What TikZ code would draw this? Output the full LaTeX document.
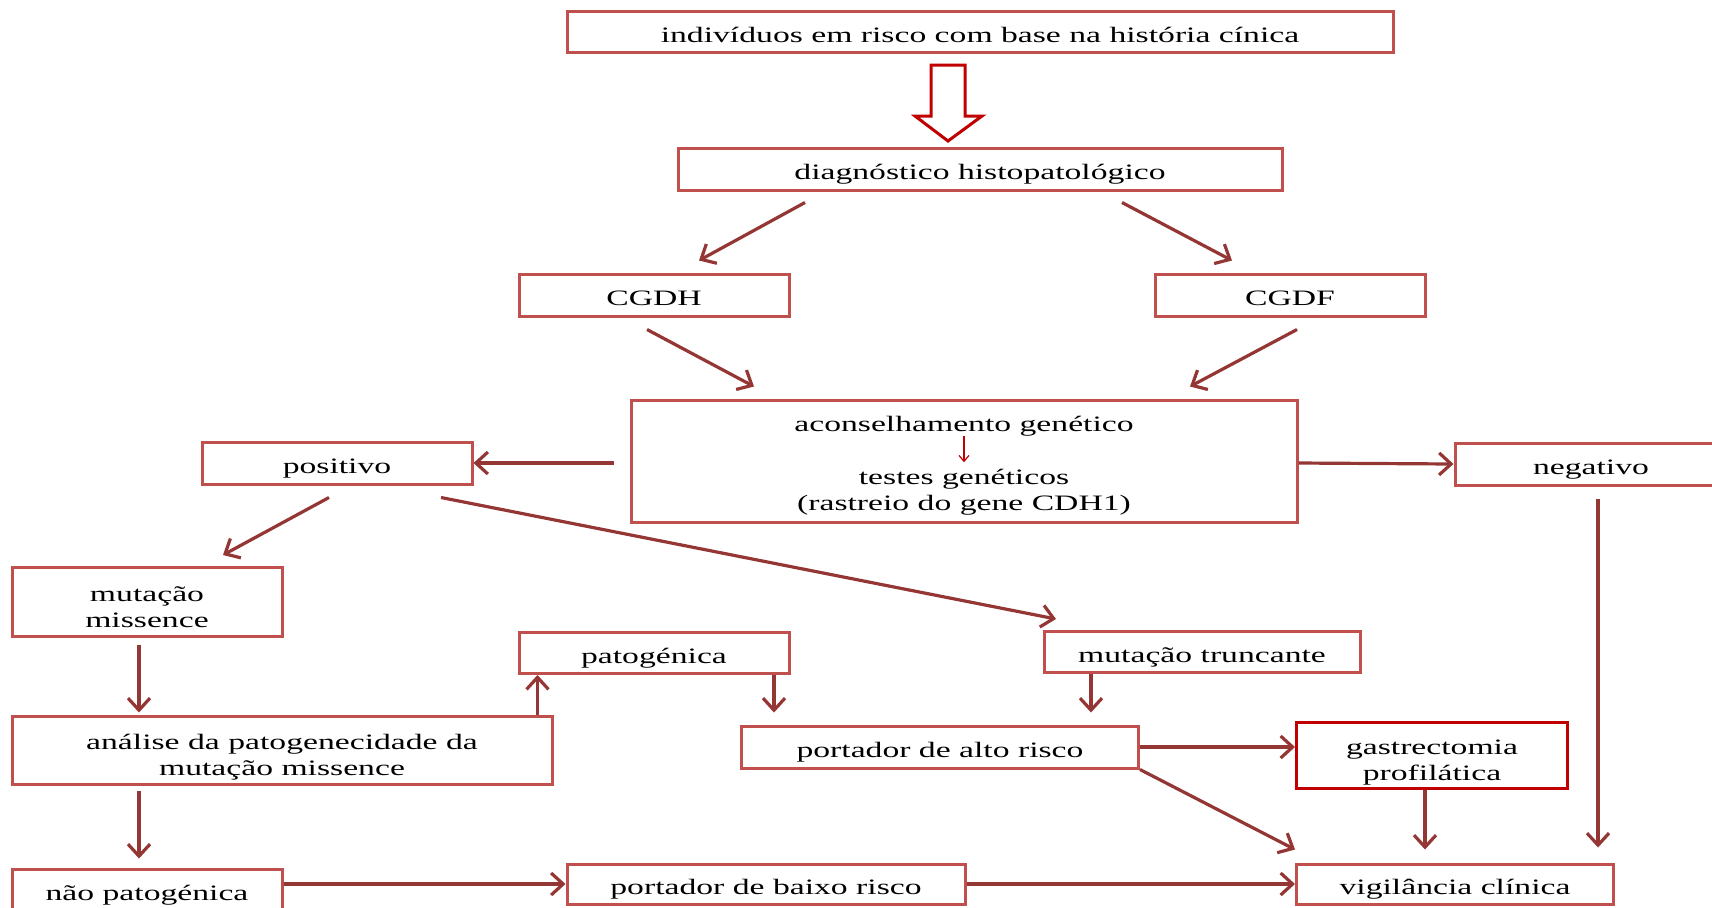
\documentclass[tikz,border=0pt]{standalone}
\usepackage{fontspec}
\setmainfont{Liberation Serif}[FakeStretch=1.53]
\usepackage{tikz}
\usetikzlibrary{arrows.meta}
\definecolor{boxred}{HTML}{C0504D}
\definecolor{lnred}{HTML}{943634}
\definecolor{hired}{HTML}{C00000}

\begin{document}
\begin{tikzpicture}[x=0.5pt,y=-0.5pt,
    font=\fontsize{11pt}{13pt}\selectfont,
    box/.style={draw=boxred,line width=1.5pt,align=center,inner sep=0pt,text height=12.6pt,text depth=2.5pt},
    box2/.style={box,text height=28pt},
    link/.style={draw=lnred,line width=1.6pt,-{Straight Barb[length=6pt,width=11pt]}},
    txt/.style={inner sep=0pt}]
  \useasboundingbox (0,0) rectangle (1712,907);
  % boxes
  \node[box,minimum width=413pt,minimum height=20.5pt] (indiv) at (980,32) {indivíduos em risco com base na história cínica};
  \node[box,minimum width=302pt,minimum height=21pt] (diag) at (980,169) {diagnóstico histopatológico};
  \node[box,minimum width=135pt,minimum height=21pt] (cgdh) at (654,295) {CGDH};
  \node[box,minimum width=135pt,minimum height=21pt] (cgdf) at (1290,295) {CGDF};
  \node[box,minimum width=333pt,minimum height=61pt] (acons) at (964,461) {};
  \node[txt,anchor=base] (aconstxt) at (964,431) {aconselhamento genético};
  \node[txt,anchor=base] (testes) at (964,484) {testes genéticos};
  \node[txt,anchor=base] (rastreio) at (964,510) {(rastreio do gene CDH1)};
  \node[box,minimum width=135pt,minimum height=21pt] (pos) at (337,463) {positivo};
  \node[box,minimum width=136pt,minimum height=21pt] (neg) at (1591,464) {negativo};
  \node[box2,minimum width=135pt,minimum height=34.5pt] (missence) at (147,602) {mutação\\missence};
  \node[box,minimum width=135pt,minimum height=20.5pt] (patog) at (654,653) {patogénica};
  \node[box,minimum width=158pt,minimum height=20.5pt] (trunc) at (1202,652) {mutação truncante};
  \node[box2,minimum width=270pt,minimum height=34pt] (analise) at (282,750) {análise da patogenecidade da\\mutação missence};
  \node[box,minimum width=198.5pt,minimum height=21pt] (alto) at (940,747) {portador de alto risco};
  \node[box2,draw=hired,minimum width=135.5pt,minimum height=33pt] (gastr) at (1432,755) {gastrectomia\\profilática};
  \node[box,minimum width=135pt,minimum height=21pt] (naopat) at (147,890) {não patogénica};
  \node[box,minimum width=199pt,minimum height=20pt] (baixo) at (766,884) {portador de baixo risco};
  \node[box,minimum width=158.5pt,minimum height=20pt] (vigil) at (1455,884) {vigilância clínica};

  % hollow arrow
  \draw[hired,line width=1.5pt,line join=miter] ([shift={(-49,11)}]indiv.south) -- ++(34,0) -- ++(0,51) -- ++(17,0) -- ++(-34,25) -- ++(-33,-25) -- ++(16,0) -- cycle;

  % connectors
  \coordinate (patin) at ([shift={(-16,0)}]analise.north east);
  \draw[link] ([shift={(-175,11)}]diag.south) -- ([shift={(45,-12)}]cgdh.north);
  \draw[link] ([shift={(142,11)}]diag.south) -- ([shift={(-58,-12)}]cgdf.north);
  \draw[link] ([shift={(-7,12)}]cgdh.south) -- ([shift={(-210,-12)}]acons.north);
  \draw[link] ([shift={(7,12)}]cgdf.south) -- ([shift={(226,-12)}]acons.north);
  \draw[link] ([shift={(-16,2)}]acons.west) -- (pos.east);
  \draw[link] ([shift={(0,2)}]acons.east) -- (neg.west);
  \draw[hired,line width=0.6pt,-{Straight Barb[length=3pt,width=5pt]}] (aconstxt.south) -- ([shift={(0,-6)}]testes.north);
  \draw[link] ([shift={(-8,12)}]pos.south) -- ([shift={(76,-11)}]missence.north);
  \draw[link] ([shift={(104,12)}]pos.south) -- ([shift={(-146,-11)}]trunc.north);
  \draw[link] ([shift={(7,12)}]neg.south) -- ([shift={(143,-15)}]vigil.north);
  \draw[link] ([shift={(-8,7)}]missence.south) -- ([shift={(-143,-2)}]analise.north);
  \draw[link] (patin) -- (patin |- patog.south);
  \draw[link] ([shift={(120,0)}]patog.south) -- ([shift={(-166,-12)}]alto.north);
  \draw[link] ([shift={(-111,0)}]trunc.south) -- ([shift={(151,-12)}]alto.north);
  \draw[link] (alto.east) -- ([shift={(0,-8)}]gastr.west);
  \draw[link] (alto.south east) -- ([shift={(0,-13)}]vigil.north west);
  \draw[link] ([shift={(-7,0)}]gastr.south) -- ([shift={(-30,-13)}]vigil.north);
  \draw[link] ([shift={(-143,5)}]analise.south) -- ([shift={(-8,-9)}]naopat.north);
  \draw[link] ([shift={(0,-6)}]naopat.east) -- (baixo.west);
  \draw[link] (baixo.east) -- (vigil.west);
\end{tikzpicture}
\end{document}
